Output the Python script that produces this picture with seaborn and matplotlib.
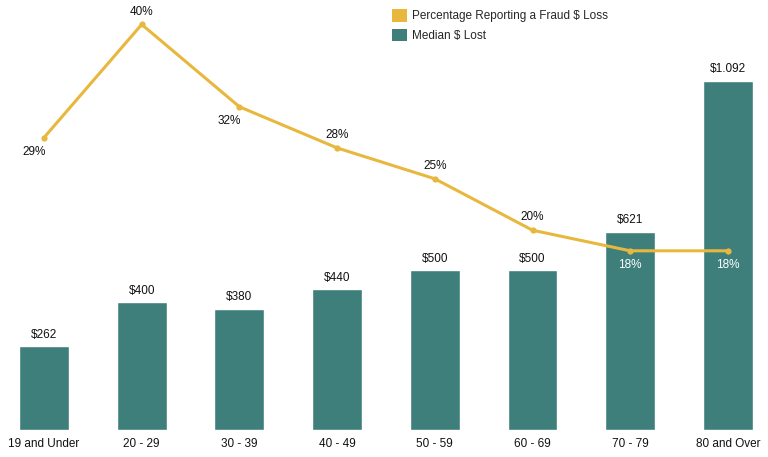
import matplotlib
matplotlib.use("Agg")
import matplotlib.pyplot as plt
from matplotlib.patches import Patch
import numpy as np
import pandas as pd
import seaborn as sns

# Data
age_groups = ["19 and Under", "20 - 29", "30 - 39", "40 - 49",
              "50 - 59", "60 - 69", "70 - 79", "80 and Over"]
median_loss = [262, 400, 380, 440, 500, 500, 621, 1092]
median_labels = ["$262", "$400", "$380", "$440", "$500", "$500", "$621", "$1.092"]
pct_loss = [29, 40, 32, 28, 25, 20, 18, 18]

TEAL = "#3E7F7C"
GOLD = "#E8B83E"


def generate_graph():
    sns.set_theme(style="white")
    plt.rcParams['font.family'] = ['Liberation Sans', 'DejaVu Sans']

    df = pd.DataFrame({"age": age_groups, "median": median_loss, "pct": pct_loss})

    fig = plt.figure(figsize=(7.68, 4.57), dpi=100)
    ax = fig.add_axes([0.0, 0.059, 1.0, 0.919])

    sns.barplot(data=df, x="age", y="median", color=TEAL, saturation=1,
                width=0.51, ax=ax)
    ax.set_ylim(0, 1314)
    ax.set_xlabel("")
    ax.set_ylabel("")
    ax.set_yticks([])
    for s in ax.spines.values():
        s.set_visible(False)
    ax.tick_params(axis="x", length=0, labelsize=8.5, pad=6, colors="#111111")
    ax.set_xticks(np.arange(len(age_groups)) + 0.5, minor=True)
    ax.tick_params(axis="x", which="minor", length=8, color="#e6e6e6", width=0.8,
                   direction="out")

    for i, (v, lab) in enumerate(zip(median_loss, median_labels)):
        ax.annotate(lab, (i, v), xytext=(0, 4), textcoords="offset points",
                    ha="center", va="bottom", fontsize=8.5, color="#111111")

    # Line on secondary axis
    ax2 = ax.twinx()
    sns.lineplot(x=np.arange(len(pct_loss)), y=df["pct"], color=GOLD,
                 linewidth=2.2, marker="o", markersize=4.5, markeredgewidth=0,
                 ax=ax2)
    ax2.set_ylim(0.58, 41.4)
    ax2.set_yticks([])
    ax2.set_ylabel("")
    for s in ax2.spines.values():
        s.set_visible(False)

    below = [True, False, True, False, False, False, True, True]
    for i, v in enumerate(pct_loss):
        if below[i]:
            dx = -7 if i < 6 else 0
            col = "white" if i >= 6 else "#111111"
            ax2.annotate(f"{v}%", (i, v), xytext=(dx, -6), textcoords="offset points",
                         ha="center", va="top", fontsize=8.5, color=col)
        else:
            ax2.annotate(f"{v}%", (i, v), xytext=(0, 5), textcoords="offset points",
                         ha="center", va="bottom", fontsize=8.5, color="#111111")

    # fix horizontal range after both plots
    ax.set_xlim(-0.45, 7.41)

    handles = [Patch(facecolor=GOLD, edgecolor="none"),
               Patch(facecolor=TEAL, edgecolor="none")]
    fig.legend(handles, ["Percentage Reporting a Fraud $ Loss", "Median $ Lost"],
               loc="upper left", bbox_to_anchor=(0.497, 1.003), frameon=False,
               fontsize=8.5, handlelength=1.25, handleheight=1.25,
               handletextpad=0.45, labelspacing=0.55)

    plt.savefig("out.png", dpi=100)


if __name__ == "__main__":
    generate_graph()
